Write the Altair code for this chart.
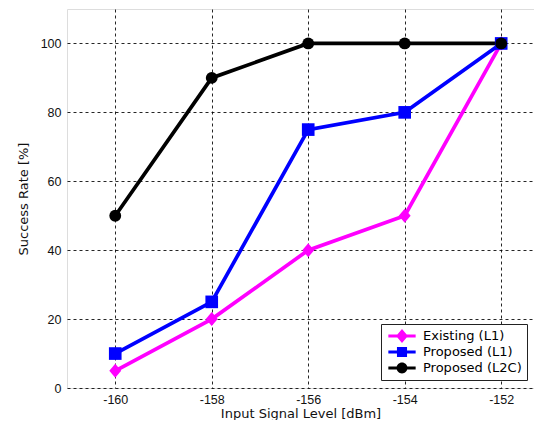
import altair as alt
import pandas as pd

x_levels = [-160, -158, -156, -154, -152]
existing_l1 = [5, 20, 40, 50, 100]
proposed_l1 = [10, 25, 75, 80, 100]
proposed_l2c = [50, 90, 100, 100, 100]
series_names = ["Existing (L1)", "Proposed (L1)", "Proposed (L2C)"]
series_colors = ["#ff00ff", "#0000ff", "#000000"]

rows = []
for name, vals in zip(series_names, [existing_l1, proposed_l1, proposed_l2c]):
    for x, y in zip(x_levels, vals):
        rows.append({"level": x, "rate": y, "series": name})
df = pd.DataFrame(rows)

# marker shapes (unit paths) used in the plot
plot_shapes = [
    "M0,-1L0.85,0L0,1L-0.85,0Z",   # diamond
    "square",
    "circle",
]
# legend symbols: a line segment through the marker
legend_shapes = [
    "M-1.95,-0.2H1.95V0.2H-1.95Z M0,-1L0.85,0L0,1L-0.85,0Z",
    "M-1.95,-0.2H1.95V0.2H-1.95Z M-0.72,-0.72H0.72V0.72H-0.72Z",
    "M-1.95,-0.22H1.95V0.22H-1.95Z M-0.78,0A0.78,0.78 0 1,1 0.78,0A0.78,0.78 0 1,1 -0.78,0Z",
]
plot_sizes = [196, 160, 140]

tick_font = "Liberation Sans"
text_font = "DejaVu Sans"
xscale = alt.Scale(domain=[-161, -151.32], nice=False, zero=False)
yscale = alt.Scale(domain=[0, 110], nice=False)
common_axis = dict(grid=True, gridDash=[3, 3], gridColor="#000000", gridOpacity=0.85,
                   ticks=False, domain=False, labelFontSize=12.5, titleFontSize=13,
                   titleFontWeight="normal", labelColor="#111111", titleColor="#111111",
                   labelFont=tick_font, titleFont=text_font, labelExpr="'' + datum.value")
xaxis = alt.Axis(values=x_levels, title="Input Signal Level [dBm]", labelPadding=5,
                 titlePadding=2, **common_axis)
yaxis = alt.Axis(values=[0, 20, 40, 60, 80, 100], title="Success Rate [%]",
                 labelPadding=6, titlePadding=10, **common_axis)

color = alt.Color("series:N", scale=alt.Scale(domain=series_names, range=series_colors),
                  legend=alt.Legend(title=None, orient="none", legendX=314, legendY=315,
                                    strokeColor="#222222", fillColor="white", padding=5,
                                    labelFont=text_font, labelFontSize=13, labelColor="black",
                                    symbolSize=196, symbolStrokeWidth=0, rowPadding=2,
                                    symbolOpacity=1, cornerRadius=0, symbolOffset=9,
                                    labelOffset=14))

base = alt.Chart(df).encode(
    x=alt.X("level:Q", scale=xscale, axis=xaxis),
    y=alt.Y("rate:Q", scale=yscale, axis=yaxis),
    color=color,
)
lines = base.mark_line(strokeWidth=3.7)

point_layers = []
for name, shp, sz in zip(series_names, plot_shapes, plot_sizes):
    point_layers.append(
        base.transform_filter(alt.datum.series == name)
        .mark_point(filled=True, size=sz, opacity=1, shape=shp)
    )

legend_layer = alt.Chart(df).mark_point(filled=True, opacity=1, clip=True).encode(
    x=alt.value(-200), y=alt.value(-200),
    color=alt.Color("series:N"),
    shape=alt.Shape("series:N", scale=alt.Scale(domain=series_names, range=legend_shapes)),
)

chart = alt.layer(lines, *point_layers, legend_layer).properties(
    width=467, height=379,
    autosize=alt.AutoSizeParams(type="none"),
    padding={"left": 59, "top": 1, "right": 0, "bottom": 32},
).configure_view(stroke="#222222", strokeWidth=1.2).configure(background="white")

chart.save("out.html", embed_options={"renderer": "svg", "actions": False})
